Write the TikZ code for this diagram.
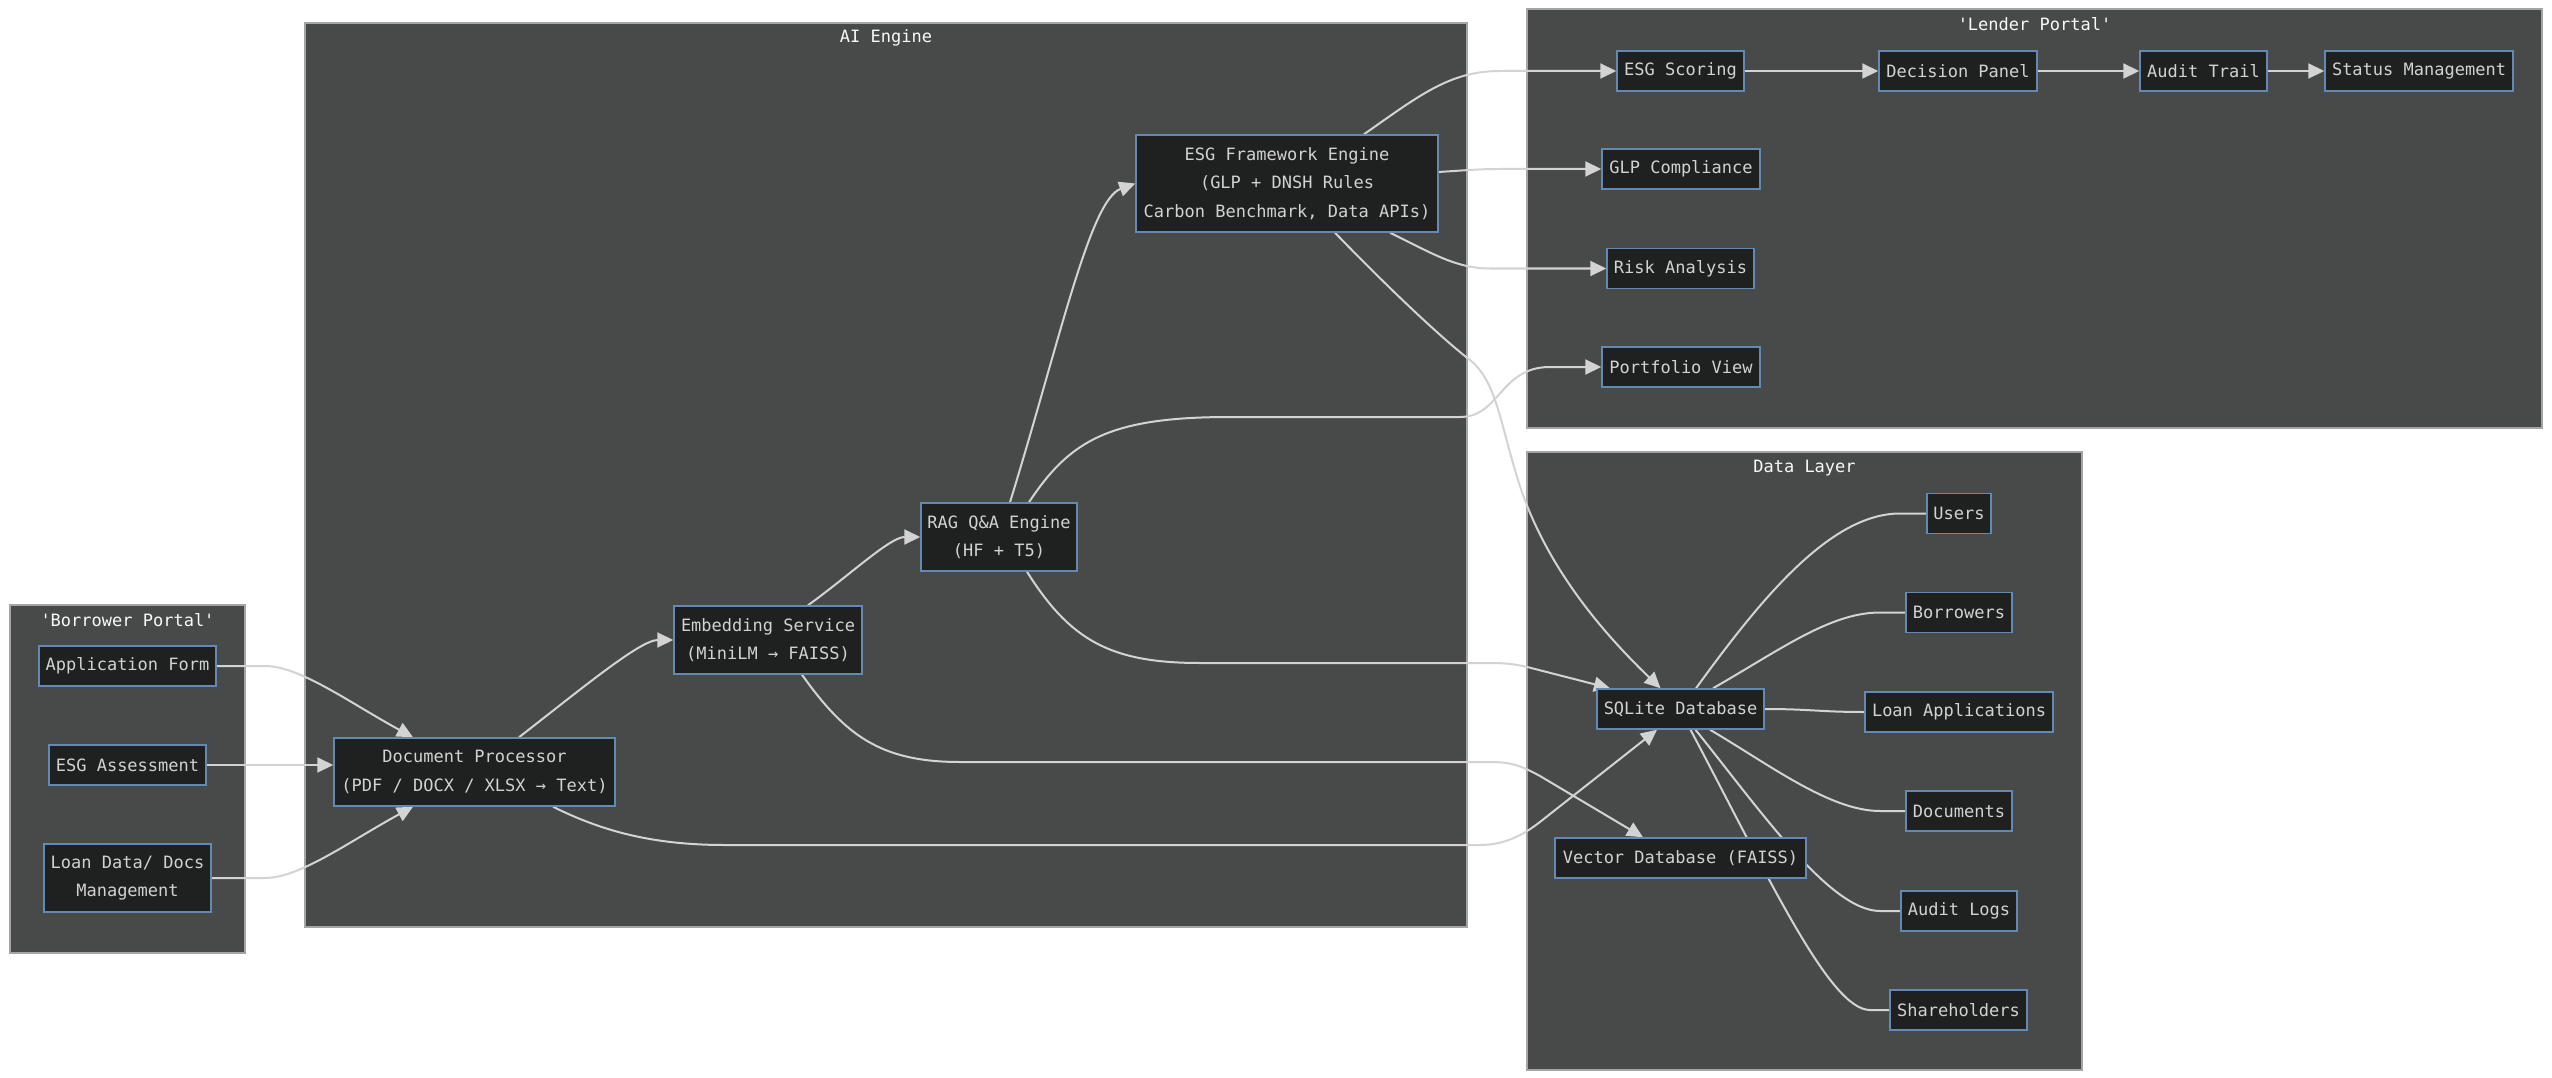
\documentclass[tikz,border=0pt]{standalone}
\usepackage{fontspec}
\usetikzlibrary{arrows.meta,calc}
\newfontfamily\dmono{DejaVu Sans Mono}
\newcommand\dfont{\dmono\fontsize{17}{28.5}\selectfont}
\definecolor{clusterfill}{RGB}{72,73,73}
\definecolor{clusterborder}{RGB}{165,165,165}
\definecolor{nodefill}{RGB}{31,32,32}
\definecolor{nodeborder}{RGB}{98,138,180}
\definecolor{nodetext}{RGB}{210,210,210}
\definecolor{titletext}{RGB}{245,250,250}
\definecolor{linecol}{RGB}{211,211,211}
\pgfdeclarelayer{background}
\pgfdeclarelayer{edges}
\pgfsetlayers{background,edges,main}
\tikzset{
  box/.style={draw=nodeborder, fill=nodefill, line width=1.5pt, text=nodetext, inner sep=0pt, font=\dfont, align=center},
  cluster/.style={draw=clusterborder, fill=clusterfill, line width=1.5pt},
  ctitle/.style={text=titletext, font=\dfont, inner sep=0pt},
  edge/.style={draw=linecol, line width=2pt},
  arr/.style={edge, -{Triangle[length=16pt,width=15pt]}, fill=none}
}
\begin{document}
\begin{tikzpicture}[x=1pt,y=-1pt]
\useasboundingbox (0,0) rectangle (2552,1078);
\begin{pgfonlayer}{background}
\fill[white] (0,0) rectangle (2552,1078);
\draw[cluster] (10,605) rectangle (245,953);
\draw[cluster] (305,23) rectangle (1467,927);
\draw[cluster] (1527,9) rectangle (2542,428);
\draw[cluster] (1527,452) rectangle (2082,1070);
\end{pgfonlayer}
\node[ctitle] (tbp) at (127.5,620) {'Borrower Portal'};
\node[ctitle] (tai) at (886,38) {AI Engine};
\node[ctitle] (tlp) at (2034.5,24) {'Lender Portal'};
\node[ctitle] (tdl) at (1804.5,468) {Data Layer};
% Borrower portal
\node[box, minimum width=177pt, minimum height=40pt] (af) at (127.5,666) {Application Form};
\node[box, minimum width=157pt, minimum height=40pt] (esa) at (127.5,765) {ESG Assessment};
\node[box, minimum width=167pt, minimum height=68pt] (ld) at (127.5,878) {Loan Data/ Docs\\Management};
% AI engine
\node[box, minimum width=281pt, minimum height=68pt] (dp) at (474.5,772) {Document Processor\\(PDF / DOCX / XLSX → Text)};
\node[box, minimum width=188pt, minimum height=68pt] (emb) at (768,640) {Embedding Service\\(MiniLM → FAISS)};
\node[box, minimum width=156pt, minimum height=68pt] (rag) at (999,537) {RAG Q\&A Engine\\(HF + T5)};
\node[box, minimum width=302pt, minimum height=97pt] (esgfe) at (1287,183.5) {ESG Framework Engine\\(GLP + DNSH Rules\\Carbon Benchmark, Data APIs)};
% Lender portal
\node[box, minimum width=127pt, minimum height=40pt] (sc) at (1680.5,71) {ESG Scoring};
\node[box, minimum width=158pt, minimum height=40pt] (dpn) at (1958,71) {Decision Panel};
\node[box, minimum width=127pt, minimum height=40pt] (at) at (2203.5,71) {Audit Trail};
\node[box, minimum width=188pt, minimum height=40pt] (stm) at (2419,71) {Status Management};
\node[box, minimum width=158pt, minimum height=40pt] (glp) at (1681,169) {GLP Compliance};
\node[box, minimum width=147pt, minimum height=40pt] (risk) at (1680.5,268.5) {Risk Analysis};
\node[box, minimum width=158pt, minimum height=40pt] (pv) at (1681,367) {Portfolio View};
% Data layer
\node[box, minimum width=167pt, minimum height=40pt] (sql) at (1680.5,709) {SQLite Database};
\node[box, minimum width=251pt, minimum height=40pt] (vdb) at (1680.5,858) {Vector Database (FAISS)};
\node[box, minimum width=64pt, minimum height=40pt] (users) at (1959,513.5) {Users};
\node[box, minimum width=106pt, minimum height=40pt] (borr) at (1959,612.5) {Borrowers};
\node[box, minimum width=188pt, minimum height=40pt] (la) at (1959,712) {Loan Applications};
\node[box, minimum width=106pt, minimum height=40pt] (docs) at (1959,811) {Documents};
\node[box, minimum width=116pt, minimum height=40pt] (al) at (1959,911) {Audit Logs};
\node[box, minimum width=137pt, minimum height=40pt] (sh) at (1958.5,1010) {Shareholders};
\begin{pgfonlayer}{edges}
\draw[arr] (af.east) -- (265,666) .. controls (300,666) and (350,703) .. ($(dp.north)+(-61.5,0)$);
\draw[arr] (esa.east) -- (esa.east -| dp.west);
\draw[arr] (ld.east) -- (265,878) .. controls (300,878) and (350,841) .. ($(dp.south)+(-61.5,0)$);
\draw[arr] ($(dp.north)+(44.5,0)$) .. controls (580,690) and (640,640) .. (emb.west);
\draw[arr] ($(dp.south)+(78.5,0)$) .. controls (600,830) and (650,845) .. (725,845) -- (1480,845) .. controls (1510,845) and (1530,830) .. (1545,818) -- ($(sql.south)+(-23.5,0)$);
\draw[arr] ($(emb.north)+(40,0)$) .. controls (850,575) and (890,537) .. (rag.west);
\draw[arr] ($(emb.south)+(34,0)$) .. controls (845,735) and (880,762) .. (960,762) -- (1490,762) .. controls (1510,762) and (1520,765) .. (1540,776) -- ($(vdb.north)+(-37.5,0)$);
\draw[arr] ($(rag.north)+(11,0)$) .. controls (1060,340) and (1090,200) .. (esgfe.west);
\draw[arr] ($(rag.north)+(30,0)$) .. controls (1070,440) and (1110,417) .. (1230,417) -- (1460,417) .. controls (1500,417) and (1500,367) .. (1550,367) -- (pv.west);
\draw[arr] ($(rag.south)+(28,0)$) .. controls (1070,640) and (1110,663) .. (1200,663) -- (1490,663) .. controls (1510,663) and (1520,665) .. (1535,669) -- ($(sql.north)+(-70.5,0)$);
\draw[arr] ($(esgfe.north)+(77,0)$) .. controls (1420,95) and (1450,71) .. (1500,71) -- (sc.west);
\draw[arr] ($(esgfe.east)+(0,-11.5)$) .. controls (1470,170) and (1480,169) .. (1500,169) -- (glp.west);
\draw[arr] ($(esgfe.south)+(103,0)$) .. controls (1430,252) and (1455,268.5) .. (1490,268.5) -- (risk.west);
\draw[arr] ($(esgfe.south)+(48,0)$) .. controls (1400,300) and (1450,345) .. (1470,360) .. controls (1495,380) and (1500,420) .. (1515,470) .. controls (1540,560) and (1600,630) .. ($(sql.north)+(-20,0)$);
\draw[arr] (sc.east) -- (dpn.west);
\draw[arr] (dpn.east) -- (at.west);
\draw[arr] (at.east) -- (stm.west);
\draw[edge] ($(sql.north)+(15.5,0)$) .. controls (1760,600) and (1830,513.5) .. (1900,513.5) -- (users.west);
\draw[edge] ($(sql.north)+(32.5,0)$) .. controls (1780,650) and (1830,612.5) .. (1880,612.5) -- (borr.west);
\draw[edge] (sql.east) .. controls (1810,709) and (1820,712) .. (la.west);
\draw[edge] ($(sql.south)+(29.5,0)$) .. controls (1770,765) and (1830,811) .. (1880,811) -- (docs.west);
\draw[edge] ($(sql.south)+(15,0)$) .. controls (1760,810) and (1830,911) .. (1880,911) -- (al.west);
\draw[edge] ($(sql.south)+(10,0)$) .. controls (1770,880) and (1830,1010) .. (1870,1010) -- (sh.west);
\end{pgfonlayer}
\end{tikzpicture}
\end{document}
